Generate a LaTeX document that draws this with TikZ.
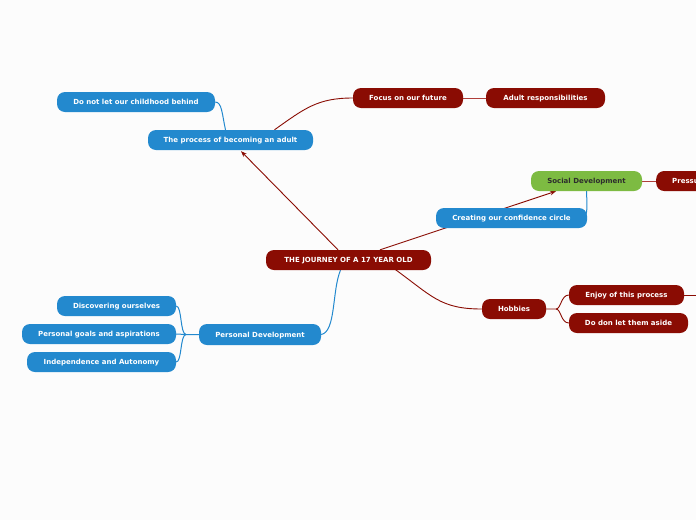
\documentclass[tikz,border=0pt]{standalone}
\usepackage{fontspec}
\setmainfont{DejaVu Sans}
\usetikzlibrary{arrows.meta,calc,backgrounds}
\definecolor{dred}{RGB}{138,12,3}
\definecolor{lred}{RGB}{176,62,58}
\definecolor{mblue}{RGB}{35,137,206}
\definecolor{mgreen}{RGB}{125,187,66}
\definecolor{bg}{RGB}{252,252,252}
\definecolor{dtext}{RGB}{45,45,45}
\tikzset{
  topic/.style={rounded corners=8pt, inner sep=0pt, minimum height=20pt,
    text height=5.1pt, text depth=0pt,
    text=white, font=\fontsize{7}{8}\selectfont\bfseries},
  redtopic/.style={topic, fill=dred},
  bluetopic/.style={topic, fill=mblue},
  greentopic/.style={topic, fill=mgreen, text=dtext},
  redline/.style={draw=dred, line width=0.9pt},
  lredline/.style={draw=lred, line width=0.8pt},
  blueline/.style={draw=mblue, line width=1pt},
  arr/.style={draw=dred, line width=0.9pt, -{Stealth[length=6pt,width=4.5pt]}}
}
\begin{document}
\begin{tikzpicture}[x=1pt,y=-1pt]
\useasboundingbox (0,0) rectangle (696,520);

% nodes
\node[redtopic, minimum width=165pt] (c) at (348.5,260) {THE JOURNEY OF A 17 YEAR OLD};
\node[bluetopic, minimum width=165pt] (proc) at (230.5,140) {The process of becoming an adult};
\node[bluetopic, minimum width=158pt] (child) at (136,102) {Do not let our childhood behind};
\node[redtopic, minimum width=110pt] (focus) at (408,98) {Focus on our future};
\node[redtopic, minimum width=119pt] (adult) at (545.5,98) {Adult responsibilities};
\node[bluetopic, minimum width=151pt] (circle) at (511.5,218) {Creating our confidence circle};
\node[greentopic, minimum width=111pt] (soc) at (586.5,181) {Social Development};
\node[redtopic, minimum width=100pt, anchor=west, text width=84pt, align=left] (press) at (656,181) {\hspace*{8pt}Pressure};
\node[redtopic, minimum width=64pt] (hob) at (514,309) {Hobbies};
\node[redtopic, minimum width=115pt] (enjoy) at (626.5,295) {Enjoy of this process};
\node[redtopic, minimum width=119pt] (aside) at (628.5,323) {Do don let them aside};
\node[bluetopic, minimum width=122pt, minimum height=21pt] (pers) at (260,334.5) {Personal Development};
\node[bluetopic, minimum width=119pt] (disc) at (116.5,306) {Discovering ourselves};
\node[bluetopic, minimum width=154pt] (goals) at (99,334) {Personal goals and aspirations};
\node[bluetopic, minimum width=149pt] (indep) at (101.5,362) {Independence and Autonomy};
\coordinate (off) at (697,295);

\begin{scope}[on background layer]
\fill[bg] (0,0) rectangle (696,520);
% arrows
\draw[arr] ($(c.north)+(-10.5,0)$) -- ($(proc.south)+(10.5,1)$);
\draw[arr] ($(c.north)+(31.5,0)$) -- ($(soc.south)+(-30.5,0)$);
% curves
\draw[blueline] ($(proc.north)+(-5,0)$) .. controls (222,114) and (222,102) .. (child.east);
\draw[redline] ($(proc.north)+(44,0)$) .. controls (305,108) and (318,98) .. (focus.west);
\draw[lredline] (focus.east) -- (adult.west);
\draw[lredline] (soc.east) -- (press.west);
\draw[blueline] ($(circle.east)+(-4,0)$) .. controls (588,216) and (587,205) .. (soc.south);
\draw[blueline] ($(c.south)+(-8,0)$) .. controls (332,290) and (336,332) .. (pers.east);
\draw[redline] ($(c.south)+(45,-2)$) .. controls (432,296) and (440,309) .. (hob.west);
\draw[redline] (hob.east) -- (556,309) .. controls (561,309) and (561,295) .. (enjoy.west);
\draw[redline] (556,309) .. controls (561,309) and (561,323) .. (aside.west);
\draw[redline] (enjoy.east) -- (off);
\draw[blueline] (pers.west) -- (186,334.5) .. controls (180,334) and (182,306) .. (disc.east);
\draw[blueline] (186,334.5) -- (goals.east);
\draw[blueline] (186,334.5) .. controls (180,335) and (182,362) .. (indep.east);
\end{scope}
\end{tikzpicture}
\end{document}
